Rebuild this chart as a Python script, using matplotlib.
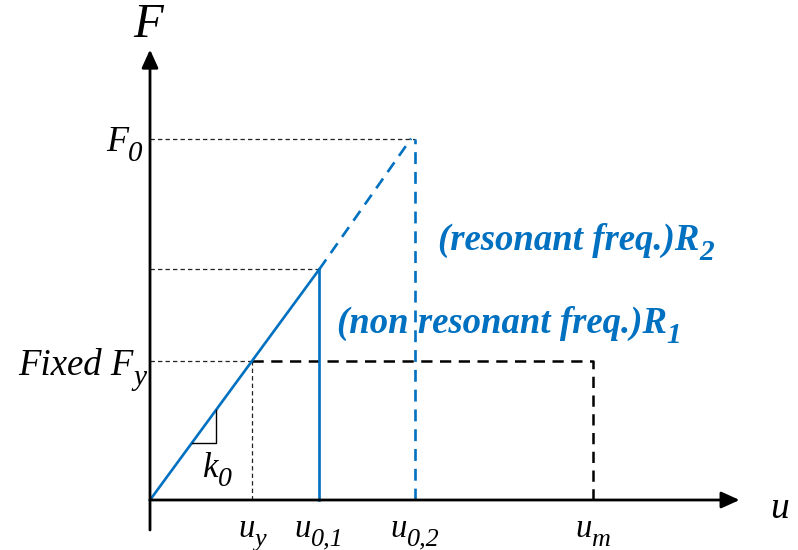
import matplotlib
matplotlib.use("Agg")
import matplotlib.pyplot as plt
from matplotlib.transforms import offset_copy

plt.rcParams["font.family"] = ["Liberation Serif", "DejaVu Serif"]

# ---- data (normalised: u_y = 1, F_y = 1) ----
k0 = 1.0                      # initial stiffness
u_y = 1.0                     # yield displacement
F_y = 1.0                     # fixed yield force
u_01 = 1.66                   # displacement amplitude, non resonant
u_02 = 2.6                    # displacement amplitude, resonant
u_m = 4.34                    # maximum displacement
tick_u = [u_y, u_01, u_02, u_m]
tick_base = ["u", "u", "u", "u"]
tick_sub = ["y", "0,1", "0,2", "m"]
slope_tri = [0.41, 0.65]      # base of slope triangle (u range)

F_01 = k0 * u_01
F_0 = k0 * u_02

blue = "#0070C0"

fig = plt.figure(figsize=(7.98, 5.5), dpi=100)
ax = fig.add_axes([0, 0, 1, 1])
ax.set_xlim(-1.4706, 6.353)
ax.set_ylim(-0.3597, 3.597)
ax.axis("off")
renderer = fig.canvas.get_renderer()


def sub_label(x, y, base, sub, size, ha="left", color="k", weight="normal",
              sub_scale=0.8, drop=0.27):
    """Italic label with an italic subscript, anchored at its baseline."""
    kw = dict(fontsize=size, color=color, fontstyle="italic",
              fontweight=weight, va="baseline", ha="left")
    t1 = ax.text(x, y, base, **kw)
    kw["fontsize"] = size * sub_scale
    t2 = ax.text(x, y, sub, **kw)
    w1 = t1.get_window_extent(renderer).width
    w2 = t2.get_window_extent(renderer).width
    total = w1 + w2
    shift = {"left": 0.0, "center": -total / 2, "right": -total}[ha]
    px = size * fig.dpi / 72.0
    t1.set_transform(offset_copy(ax.transData, fig, x=shift, y=0,
                                 units="dots"))
    t2.set_transform(offset_copy(ax.transData, fig, x=shift + w1,
                                 y=-drop * px, units="dots"))


# axes with arrows
arrow = dict(arrowstyle="-|>,head_length=0.55,head_width=0.25",
             mutation_scale=20, color="k", lw=2.0, shrinkA=0, shrinkB=0)
ax.annotate("", xy=(0, 3.24), xytext=(0, -0.216), arrowprops=arrow)
ax.annotate("", xy=(5.78, 0), xytext=(0, 0), arrowprops=arrow)

# thin dashed guides
thin = dict(color="#222222", lw=0.9, ls=(0, (3.5, 2.5)))
ax.plot([0, u_y], [F_y, F_y], **thin)
ax.plot([u_y, u_y], [0, F_y], **thin)
ax.plot([0, u_01], [F_01, F_01], **thin)
ax.plot([0, u_02], [F_0, F_0], **thin)

# fixed yield plateau (thick dashed)
ax.plot([u_y, u_m, u_m], [F_y, F_y, 0], color="k", lw=1.8,
        ls=(0, (4.5, 3)))

# R1: elastic response, non resonant
ax.plot([0, u_01], [0, F_01], color=blue, lw=1.9)
ax.plot([u_01, u_01], [0, F_01], color=blue, lw=1.9)

# R2: elastic response, resonant
ax.plot([u_01, u_02 - 0.04], [F_01, F_0], color=blue, lw=1.9,
        ls=(0, (4.5, 3)))
ax.plot([u_02, u_02], [0, F_0], color=blue, lw=1.9, ls=(0, (4.5, 3)))

# slope triangle
ax.plot([slope_tri[0], slope_tri[1], slope_tri[1]],
        [k0 * slope_tri[0], k0 * slope_tri[0], k0 * slope_tri[1]],
        color="k", lw=1.0)
sub_label(0.52, 0.165, "k", "0", 25)

# axis titles
ax.text(-0.02, 3.42, "F", fontsize=35, fontstyle="italic",
        ha="center", va="center")
ax.text(6.08, -0.13, "u", fontsize=27, fontstyle="italic",
        ha="left", va="baseline")

# force labels
sub_label(-0.07, F_0 - 0.09, "F", "0", 26, ha="right")
sub_label(-0.03, F_y - 0.1, "Fixed F", "y", 26.5, ha="right")

# displacement labels
for u, b, s in zip(tick_u, tick_base, tick_sub):
    sub_label(u, -0.266, b, s, 23.5, ha="center")

# response annotations
sub_label(2.82, 1.80, "(resonant freq.)R", "2", 26.5, color=blue,
          weight="bold")
sub_label(1.83, 1.20, "(non resonant freq.)R", "1", 26.5, color=blue,
          weight="bold")

fig.savefig("out.png", dpi=100)
